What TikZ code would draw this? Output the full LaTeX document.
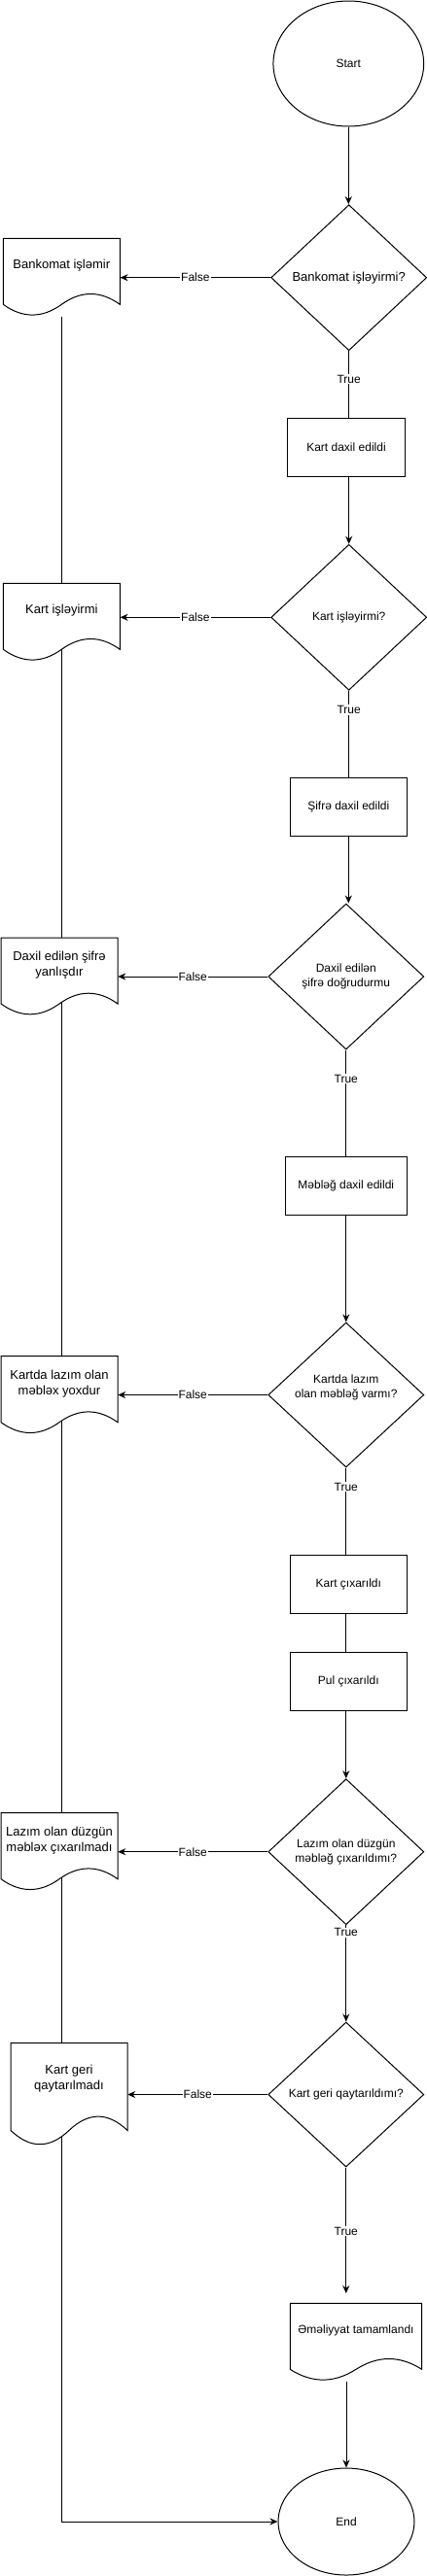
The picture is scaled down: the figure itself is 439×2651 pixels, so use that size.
\documentclass[tikz,border=0pt]{standalone}
\usepackage{fontspec}
\setmainfont{Liberation Sans}
\usetikzlibrary{shapes.geometric,arrows.meta,calc}
\pgfdeclarelayer{bg}
\pgfsetlayers{bg,main}
\tikzset{
 base/.style={draw=black, line width=1pt, fill=white, inner sep=0pt, align=center, font=\fontsize{12}{14.7}\selectfont},
 decision/.style={base, diamond, minimum width=160pt, minimum height=150pt},
 process/.style={base, rectangle, minimum width=120pt, minimum height=60pt},
 terminal/.style={base, ellipse},
 docframe/.style={inner sep=0pt, draw=none, fill=none},
 docline/.style={draw=black, line width=1pt, fill=white},
 doctext/.style={inner sep=0pt, align=center, font=\fontsize{13}{16}\selectfont},
 freetext/.style={inner sep=0pt, align=center, font=\fontsize{12}{14.7}\selectfont},
 conn/.style={line width=1pt, draw=black, -{Stealth[length=8pt,width=7pt,inset=2.5pt]}},
 connline/.style={line width=1pt, draw=black},
 lbl/.style={fill=white, inner sep=1pt, font=\fontsize{12}{14}\selectfont},
}
\newcommand\docnode[6]{%
 \pgfmathsetmacro\docL{#2-#4/2}\pgfmathsetmacro\docR{#2+#4/2}%
 \pgfmathsetmacro\docT{#3}\pgfmathsetmacro\docS{#3+0.85*#5}%
 \pgfmathsetmacro\docA{#3+0.67*#5}\pgfmathsetmacro\docB{#3+1.03*#5}%
 \pgfmathsetmacro\docXa{\docL+0.8333*#4}\pgfmathsetmacro\docXb{\docL+0.6667*#4}%
 \pgfmathsetmacro\docXm{\docL+0.5*#4}\pgfmathsetmacro\docXc{\docL+0.3333*#4}\pgfmathsetmacro\docXd{\docL+0.1667*#4}%
 \node[docframe, minimum width=#4pt, minimum height=#5pt] (#1) at (#2,{#3+#5/2}) {};
 \draw[docline] (\docL,\docT) -- (\docR,\docT) -- (\docR,\docS) .. controls (\docXa,\docA) and (\docXb,\docA) .. (\docXm,\docS) .. controls (\docXc,\docB) and (\docXd,\docB) .. (\docL,\docS) -- cycle;
 \node[doctext] (#1t) at (#2,{#3+0.35*#5}) {#6};
}
\begin{document}
\begin{tikzpicture}[x=1pt,y=-1pt]
\useasboundingbox (0,0) rectangle (439,2651);
\node[terminal, minimum width=154.7pt, minimum height=129pt] (start) at (358.3,65.5) {Start};
\node[decision, font=\fontsize{13}{15}\selectfont] (d1) at (358.7,285.7) {Bankomat işləyirmi?};
\docnode{doc1}{63.3}{245.3}{120}{80}{Bankomat işləmir}
\node[process, minimum width=120.7pt] (r1) at (356,460.3) {Kart daxil edildi};
\node[decision] (d2) at (358.7,635.3) {Kart işləyirmi?};
\docnode{doc2}{63.3}{600.3}{120}{80}{Kart işləyirmi}
\node[process] (r2) at (358.3,830.2) {Şifrə daxil edildi};
\node[decision] (d3) at (355.8,1005) {Daxil edilən\\şifrə doğrudurmu};
\docnode{doc3}{61}{965}{120}{80}{Daxil edilən şifrə\\yanlışdır}
\node[process, minimum width=125pt] (r3) at (355.8,1220.2) {Məbləğ daxil edildi};
\node[decision, minimum height=149pt] (d4) at (355.8,1435.5) {};
\node[freetext] (d4t) at (355.8,1428) {Kartda lazım\\olan məbləğ varmı?};
\docnode{doc4}{61}{1395.7}{120}{80}{Kartda lazım olan\\məbləx yoxdur}
\node[process] (r4) at (358.3,1630.2) {Kart çıxarıldı};
\node[process] (r5) at (358.3,1730.3) {Pul çıxarıldı};
\node[decision] (d5) at (355.8,1905.7) {Lazım olan düzgün\\məbləğ çıxarıldımı?};
\docnode{doc5}{61}{1865.7}{120}{80}{Lazım olan düzgün\\məbləx çıxarılmadı}
\node[decision, minimum height=149pt] (d6) at (355.8,2155.5) {Kart geri qaytarıldımı?};
\docnode{doc6}{71}{2102.3}{120}{106}{Kart geri\\qaytarılmadı}
\docnode{doc7}{366}{2370.3}{135.4}{80}{\fontsize{12}{14.7}\selectfont Əməliyyat tamamlandı}
\node[terminal, minimum width=140pt, minimum height=110pt] (end) at (356,2595) {End};

\draw[conn] (start.south) -- (start.south |- d1.north);
\draw[conn] (d1.west) -- node[lbl]{False} (d1.west -| doc1.east);
\draw[connline] (d1.south) -- node[lbl,pos=0.42]{True} (d1.south |- r1.north);
\draw[conn] (d2.north |- r1.south) -- (d2.north);
\draw[conn] (d2.west) -- node[lbl]{False} (d2.west -| doc2.east);
\draw[connline] (d2.south) -- node[lbl,pos=0.22]{True} (d2.south |- r2.north);
\draw[conn] (r2.south) -- (r2.south |- d3.north);
\draw[conn] (d3.west) -- node[lbl]{False} (d3.west -| doc3.east);
\draw[connline] (d3.south) -- node[lbl,pos=0.27]{True} (d3.south |- r3.north);
\draw[conn] (r3.south) -- (d4.north);
\draw[conn] (d4.west) -- node[lbl]{False} (d4.west -| doc4.east);
\draw[connline] (d4.south) -- node[lbl,pos=0.22]{True} (d4.south |- r4.north);
\draw[connline] (d4.south |- r4.south) -- (d4.south |- r5.north);
\draw[conn] (d5.north |- r5.south) -- (d5.north);
\draw[conn] (d5.west) -- node[lbl]{False} (d5.west -| doc5.east);
\draw[conn] (d5.south) -- node[lbl,pos=0.076]{True} (d6.north);
\draw[conn] (d6.west) -- node[lbl]{False} (d6.west -| doc6.east);
\draw[conn, shorten >=10pt] (d6.south) -- node[lbl,pos=0.47]{True} (d6.south |- doc7.north);
\draw[conn] (end.north |- doc7.south) -- (end.north);
\begin{pgfonlayer}{bg}
\draw[conn] (doc1.south) |- (end.west);
\end{pgfonlayer}
\end{tikzpicture}
\end{document}
